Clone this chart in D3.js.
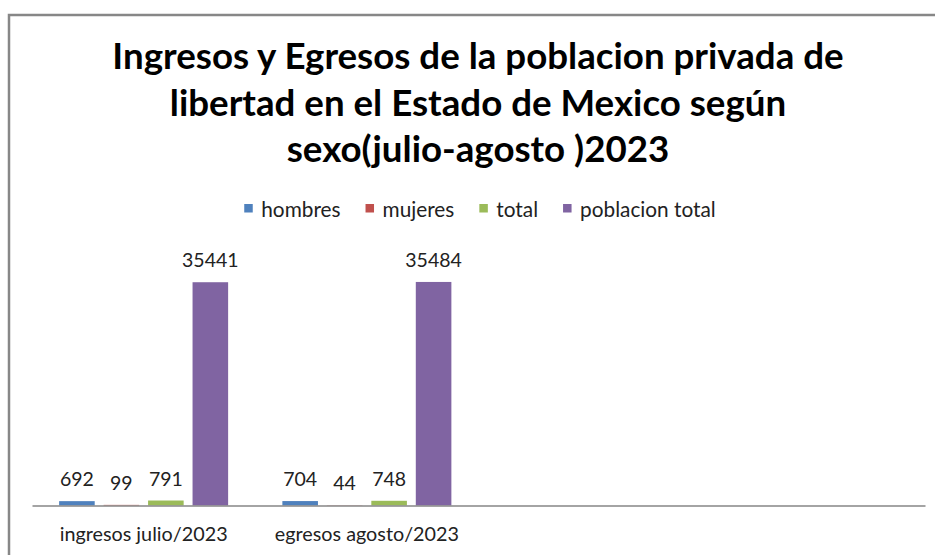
<!DOCTYPE html>
<html>
<head>
<meta charset="utf-8">
<script src="https://cdn.jsdelivr.net/npm/d3@7"></script>
<style>
  html, body { margin: 0; padding: 0; background: #fff; }
  svg { display: block; }
  text { font-family: Lato, "Open Sans", sans-serif; }
</style>
</head>
<body>
<svg id="chart" width="935" height="555"></svg>
<script>
// ---- data ----
const categories = ["ingresos julio/2023", "egresos agosto/2023", "", ""];
const seriesNames = ["hombres", "mujeres", "total", "poblacion total"];
const hombres = [692, 704];
const mujeres = [99, 44];
const total = [791, 748];
const poblacionTotal = [35441, 35484];
const colors = ["#4F81BD", "#C0504D", "#9BBB59", "#8064A2"];
const titleLines = [
  "Ingresos y Egresos de la poblacion privada de",
  "libertad en el Estado de Mexico según",
  "sexo(julio-agosto )2023"
];

const seriesValues = [hombres, mujeres, total, poblacionTotal];

const svg = d3.select("#chart");

// chart border (cropped on right and bottom)
svg.append("rect")
  .attr("x", 9).attr("y", 15)
  .attr("width", 940).attr("height", 560)
  .attr("fill", "#fff")
  .attr("stroke", "#878787")
  .attr("stroke-width", 2.5);

// title
const title = svg.append("text")
  .attr("text-anchor", "middle")
  .attr("font-weight", "bold")
  .attr("font-size", 36.7)
  .attr("fill", "#000");
titleLines.forEach((t, i) => {
  title.append("tspan")
    .attr("x", 478)
    .attr("y", 69 + i * 46.5)
    .text(t);
});

// legend
const legendFont = 20.8;
const legend = svg.append("g");
let lx = 0;
const itemGap = 25;
seriesNames.forEach((name, i) => {
  const g = legend.append("g").attr("transform", `translate(${lx},0)`);
  g.append("rect")
    .attr("x", 0).attr("y", -13)
    .attr("width", 8.5).attr("height", 8.5)
    .attr("fill", colors[i]);
  const t = g.append("text")
    .attr("x", 17).attr("y", 0)
    .attr("font-size", legendFont)
    .attr("fill", "#222")
    .text(name);
  const w = t.node().getComputedTextLength();
  lx += 17 + w + itemGap;
});
const legendWidth = lx - itemGap;
legend.attr("transform", `translate(${480 - legendWidth / 2},217)`);

// scales
const x0 = d3.scaleBand()
  .domain(d3.range(categories.length))
  .range([32, 925])
  .paddingInner(0.243)
  .paddingOuter(0.1215);

const x1 = d3.scaleBand()
  .domain(d3.range(seriesNames.length))
  .range([0, x0.bandwidth()])
  .paddingInner(0.2)
  .paddingOuter(0);

const y = d3.scaleLinear()
  .domain([0, 40000])
  .range([505.5, 253.5]);

// bars
const groups = svg.append("g").selectAll("g")
  .data(d3.range(hombres.length))
  .join("g")
  .attr("transform", d => `translate(${x0(d)},0)`);

groups.selectAll("rect")
  .data(d => seriesValues.map((s, i) => ({ s: i, v: s[d] })))
  .join("rect")
  .attr("x", d => x1(d.s))
  .attr("width", x1.bandwidth())
  .attr("y", d => y(d.v))
  .attr("height", d => y(0) - y(d.v))
  .attr("fill", d => colors[d.s]);

groups.selectAll("text")
  .data(d => seriesValues.map((s, i) => ({ s: i, v: s[d] })))
  .join("text")
  .attr("x", d => x1(d.s) + x1.bandwidth() / 2)
  .attr("y", d => y(d.v) - 15)
  .attr("text-anchor", "middle")
  .attr("font-size", 19.5)
  .attr("fill", "#222")
  .text(d => d.v);

// x axis
const xAxis = d3.axisBottom(x0)
  .tickSize(0)
  .tickPadding(0)
  .tickFormat(i => categories[i]);
const ax = svg.append("g")
  .attr("transform", `translate(0,${y(0)})`)
  .call(xAxis);
ax.select(".domain").attr("stroke", "#868686").attr("stroke-width", 1.3);
ax.selectAll(".tick text")
  .attr("font-family", "Lato, 'Open Sans', sans-serif")
  .attr("font-size", 19.8)
  .attr("fill", "#222")
  .attr("dy", 0)
  .attr("y", 35);
</script>
</body>
</html>
